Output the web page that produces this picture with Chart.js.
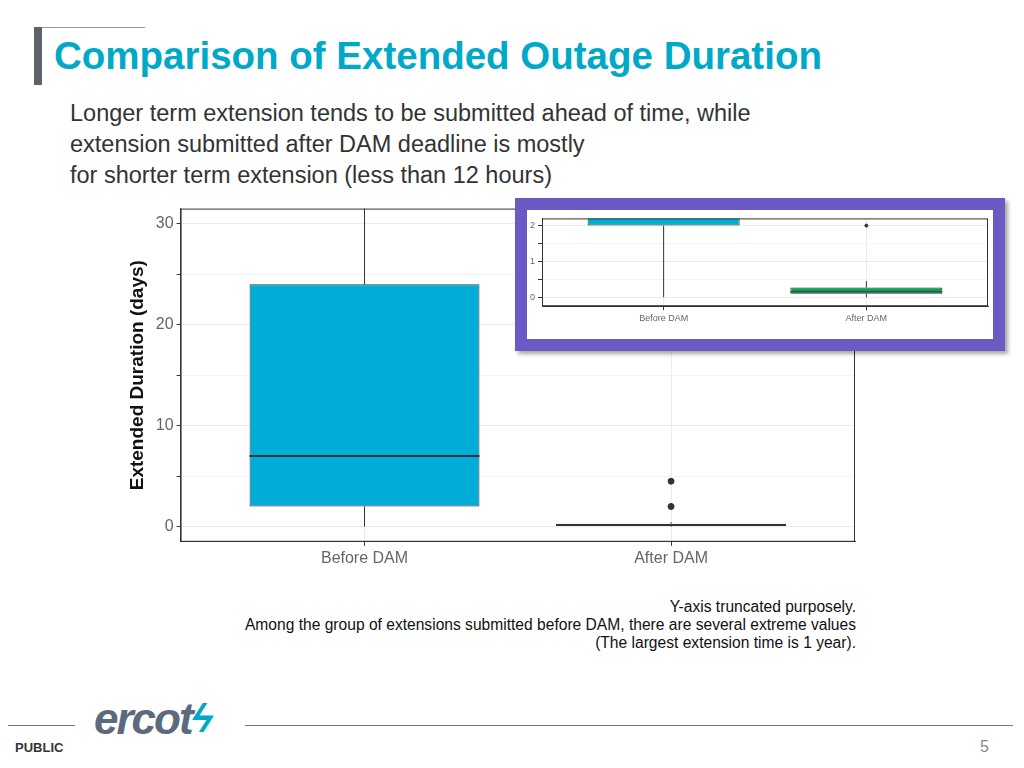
<!DOCTYPE html>
<html><head><meta charset="utf-8">
<script src="https://cdn.jsdelivr.net/npm/chart.js@4"></script>
<style>
body{margin:0;width:1024px;height:768px;position:relative;background:#fff;font-family:"Liberation Sans",Arial,sans-serif;overflow:hidden}
.abs{position:absolute}
#title{left:54px;top:34px;font-size:38.5px;font-weight:bold;color:#00a9c7;white-space:nowrap}
#sub{left:70px;top:98px;font-size:23.5px;color:#333;line-height:31px;white-space:nowrap}
#notes{left:150px;width:706px;top:598px;font-size:15.6px;color:#111;text-align:right;line-height:18px}
#inset{left:515px;top:198px;width:466px;height:129px;border:12px solid #6a5bc4;background:#fff;box-shadow:3px 3px 4px rgba(0,0,0,0.35)}
</style></head><body>
<div class="abs" style="left:34px;top:27px;width:111px;height:1px;background:#999"></div>
<div class="abs" style="left:34px;top:27px;width:8px;height:58px;background:#5f6268"></div>
<div id="title" class="abs">Comparison of Extended Outage Duration</div>
<div id="sub" class="abs">Longer term extension tends to be submitted ahead of time, while<br>extension submitted after DAM deadline is mostly<br>for shorter term extension (less than 12 hours)</div>
<div class="abs" style="left:122px;top:196px;width:738px;height:375px"><canvas id="main"></canvas></div>
<div id="inset" class="abs"><canvas id="ins"></canvas></div>
<div id="notes" class="abs">Y-axis truncated purposely.<br>Among the group of extensions submitted before DAM, there are several extreme values<br>(The largest extension time is 1 year).</div>
<div class="abs" style="left:8px;top:725px;width:67px;height:1px;background:#777"></div>
<div class="abs" style="left:245px;top:725px;width:768px;height:1px;background:#777"></div>
<div class="abs" style="left:15px;top:740px;font-size:13px;font-weight:bold;color:#333">PUBLIC</div>
<div class="abs" style="left:980px;top:738px;font-size:16px;color:#888">5</div>
<div class="abs" style="left:94px;top:694px;font-size:44px;font-style:italic;font-weight:bold;color:#5b6b7b;letter-spacing:-2px;font-family:'Liberation Sans Narrow','Liberation Sans'">ercot</div>
<div class="abs" style="left:192px;top:696px;font-size:40px;font-weight:bold;color:#00a9c7;transform:skewX(-15deg)">ϟ</div>
<script>
const categories=['Before DAM','After DAM'];
// box stats: [whiskerLow, q1, median, q3, whiskerHigh]
const mainStats=[[0,2,7,24,40],[0,0.1,0.17,0.3,0.45]];
const mainOutliers=[[],[2,4.5]];
const insetStats=[[0,2,7,24,40],[0,0.1,0.15,0.27,0.45]];
const insetOutliers=[[],[2]];
const mainColors=['#00acd8','#00acd8'];
const insetColors=['#00acd8','#00a651'];
const mainTicks=[0,10,20,30];
const insetTicks=[0,1,2];

const boxPlugin={id:'box',afterDatasetsDraw(c,a,o){
 const st=c.options.plugins.box.stats,x=c.scales.x,y=c.scales.y,ctx=c.ctx,meta=c.getDatasetMeta(0),ca=c.chartArea;
 ctx.save();ctx.beginPath();ctx.rect(ca.left,ca.top,ca.right-ca.left,ca.bottom-ca.top);ctx.clip();
 ctx.strokeStyle='#333';
 st.forEach((s,i)=>{const px=x.getPixelForValue(i+1);const w=meta.data[i].width;
  ctx.lineWidth=1;ctx.beginPath();
  ctx.moveTo(px,y.getPixelForValue(s[0]));ctx.lineTo(px,y.getPixelForValue(s[1]));
  ctx.moveTo(px,y.getPixelForValue(s[3]));ctx.lineTo(px,y.getPixelForValue(s[4]));ctx.stroke();
  ctx.lineWidth=o.medW;ctx.beginPath();ctx.moveTo(px-w/2,y.getPixelForValue(s[2]));ctx.lineTo(px+w/2,y.getPixelForValue(s[2]));ctx.stroke();
 });ctx.restore();
 ctx.save();ctx.strokeStyle='#333';ctx.lineWidth=1;ctx.strokeRect(ca.left+0.5,ca.top+0.5,ca.right-ca.left-1,ca.bottom-ca.top-1);ctx.restore();}};

function make(id,stats,outl,colors,ymin,ymax,step,ticks,fs,showTitle,medW,pad){
 const pts=[];outl.forEach((arr,i)=>arr.forEach(v=>pts.push({x:i+1,y:v})));
 return new Chart(document.getElementById(id),{type:'bar',plugins:[boxPlugin],
  data:{datasets:[
   {data:stats.map((s,i)=>({x:i+1,y:[s[1],s[3]]})),backgroundColor:colors,borderColor:'#333',borderWidth:1,borderSkipped:false,barPercentage:0.75,categoryPercentage:1,order:2},
   {type:'scatter',data:pts,backgroundColor:'#333',borderColor:'#333',pointRadius:showTitle?3:1.5,order:1}]},
  options:{responsive:true,maintainAspectRatio:false,animation:false,
   layout:{padding:pad},
   plugins:{legend:{display:false},tooltip:{enabled:false},box:{stats,medW}},
   scales:{
    x:{type:'linear',min:0.4,max:2.6,offset:false,afterBuildTicks:ax=>{ax.ticks=categories.map((c,i)=>({value:i+1}));},
     grid:{offset:false,color:'#ebebeb',tickLength:4,tickColor:'#333'},border:{color:'#333'},
     ticks:{color:'#666',autoSkip:false,maxRotation:0,callback:v=>categories[v-1]||'',font:{size:fs,family:'Liberation Sans Narrow, Liberation Sans'}}},
    y:{min:ymin,max:ymax,afterBuildTicks:ax=>{const t=[];for(let v=0;v<=ymax;v+=step)t.push({value:v});ax.ticks=t;},
     grid:{color:ctx=>ticks.includes(ctx.tick&&ctx.tick.value)?'#ebebeb':'#f4f4f4',tickLength:4,tickColor:'#333'},border:{color:'#333'},
     ticks:{color:'#666',font:{size:fs,family:'Liberation Sans Narrow, Liberation Sans'},callback:v=>ticks.includes(v)?v:''},
     title:{display:showTitle,text:'Extended Duration (days)',color:'#111',font:{size:19,weight:'bold',family:'Liberation Sans'}}}}}});
}
make('main',mainStats,mainOutliers,mainColors,-1.5,31.5,5,mainTicks,16,true,2,{top:12,right:4});
make('ins',insetStats,insetOutliers,insetColors,-0.25,2.2,0.5,insetTicks,9,false,1,{top:2,right:4,left:0,bottom:12});
</script></body></html>
